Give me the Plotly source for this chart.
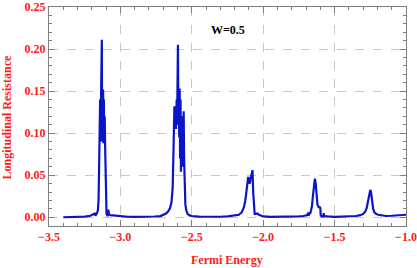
import plotly.graph_objects as go

# Fermi energy (x) and longitudinal resistance (y)
energy = [
    -3.400, -3.350, -3.300, -3.250, -3.210, -3.190, -3.180, -3.175, -3.170,
    -3.165, -3.158, -3.153, -3.149, -3.145, -3.142, -3.140, -3.137, -3.135,
    -3.133, -3.130, -3.128, -3.126, -3.124, -3.121, -3.119, -3.116, -3.113,
    -3.110, -3.107, -3.104, -3.100, -3.097, -3.094, -3.091, -3.088, -3.085,
    -3.082, -3.079, -3.070, -3.060, -3.040, -3.020, -3.000, -2.950, -2.900,
    -2.850, -2.800, -2.760, -2.720, -2.700, -2.680, -2.665, -2.652, -2.642,
    -2.634, -2.628, -2.622, -2.618, -2.614, -2.610, -2.606, -2.603, -2.600,
    -2.597, -2.594, -2.591, -2.588, -2.585, -2.582, -2.579, -2.576, -2.573,
    -2.570, -2.567, -2.563, -2.560, -2.557, -2.554, -2.550, -2.545, -2.538,
    -2.530, -2.515, -2.500, -2.450, -2.400, -2.350, -2.300, -2.250, -2.200,
    -2.170, -2.150, -2.135, -2.125, -2.115, -2.105, -2.098, -2.094, -2.088,
    -2.080, -2.075, -2.070, -2.065, -2.060, -2.050, -2.040, -2.030, -2.015,
    -2.000, -1.950, -1.900, -1.850, -1.800, -1.750, -1.720, -1.700, -1.690,
    -1.686, -1.684, -1.682, -1.680, -1.677, -1.672, -1.665, -1.658, -1.652,
    -1.645, -1.638, -1.632, -1.626, -1.620, -1.612, -1.605, -1.600, -1.597,
    -1.590, -1.585, -1.578, -1.576, -1.574, -1.565, -1.550, -1.500, -1.450,
    -1.400, -1.350, -1.320, -1.300, -1.285, -1.275, -1.265, -1.257, -1.250,
    -1.245, -1.238, -1.230, -1.222, -1.210, -1.195, -1.170, -1.140, -1.100,
    -1.060, -1.030, -1.000,
]
resistance = [
    0.0000, 0.0001, 0.0003, 0.0008, 0.0018, 0.0030, 0.0045, 0.0020, 0.0030,
    0.0045, 0.0080, 0.0200, 0.0600, 0.0950, 0.1400, 0.0900, 0.1500, 0.0920,
    0.1450, 0.2110, 0.0900, 0.1520, 0.0950, 0.1500, 0.0880, 0.1400, 0.0900,
    0.1200, 0.0850, 0.0400, 0.0080, 0.0030, 0.0070, 0.0010, 0.0040, 0.0090,
    0.0060, 0.0030, 0.0026, 0.0024, 0.0020, 0.0015, 0.0010, 0.0006, 0.0004,
    0.0004, 0.0006, 0.0009, 0.0014, 0.0025, 0.0045, 0.0070, 0.0110, 0.0180,
    0.0350, 0.0800, 0.1320, 0.1120, 0.1280, 0.1050, 0.1400, 0.1100, 0.1500,
    0.2050, 0.1200, 0.1500, 0.0950, 0.1530, 0.0700, 0.1400, 0.0540, 0.1200,
    0.0650, 0.0800, 0.0600, 0.1100, 0.1260, 0.0700, 0.0300, 0.0150, 0.0080,
    0.0040, 0.0022, 0.0015, 0.0008, 0.0005, 0.0004, 0.0006, 0.0010, 0.0020,
    0.0030, 0.0060, 0.0120, 0.0200, 0.0350, 0.0480, 0.0420, 0.0400, 0.0460,
    0.0520, 0.0560, 0.0300, 0.0080, 0.0040, 0.0040, 0.0045, 0.0030, 0.0015,
    0.0010, 0.0005, 0.0005, 0.0010, 0.0008, 0.0010, 0.0015, 0.0020, 0.0025,
    0.0050, 0.0015, 0.0060, 0.0020, 0.0050, 0.0040, 0.0080, 0.0140, 0.0250,
    0.0400, 0.0460, 0.0400, 0.0250, 0.0150, 0.0120, 0.0120, 0.0110, 0.0020,
    0.0010, 0.0015, 0.0010, 0.0050, 0.0020, 0.0015, 0.0010, 0.0005, 0.0008,
    0.0010, 0.0015, 0.0025, 0.0040, 0.0070, 0.0110, 0.0200, 0.0300, 0.0325,
    0.0300, 0.0180, 0.0100, 0.0060, 0.0040, 0.0030, 0.0020, 0.0015, 0.0018,
    0.0020, 0.0025, 0.0030,
]

x_tick_vals = [-3.5, -3.0, -2.5, -2.0, -1.5, -1.0]
x_tick_text = ["\u22123.5", "\u22123.0", "\u22122.5", "\u22122.0", "\u22121.5", "\u22121.0"]
y_tick_vals = [0.00, 0.05, 0.10, 0.15, 0.20, 0.25]
y_tick_text = ["0.00", "0.05", "0.10", "0.15", "0.20", "0.25"]

label_text = "W=0.5"
x_title = "Fermi Energy"
y_title = "Longitudinal Resistance"

SERIF = "Liberation Serif"
RED = "#ff1a1a"
FRAME = "#7f7f7f"
GRID = "#c8c8c8"

fig = go.Figure()
fig.add_trace(go.Scatter(
    x=energy, y=resistance, mode="lines",
    line=dict(color="#0a14c8", width=2.2),
    hoverinfo="skip", showlegend=False,
))

fig.add_annotation(
    x=-2.248, y=0.223, text=label_text, showarrow=False,
    font=dict(family=SERIF, size=12, color="black", weight="bold"),
)
# axis titles placed as paper annotations for exact placement
fig.add_annotation(
    xref="paper", yref="paper", x=0.498, y=-0.155, yanchor="middle",
    text=x_title, showarrow=False, borderpad=0,
    font=dict(family=SERIF, size=12, color=RED, weight="bold"),
)
fig.add_annotation(
    xref="paper", yref="paper", x=-0.117, y=0.497, xanchor="center",
    textangle=-90, text=y_title, showarrow=False,
    font=dict(family=SERIF, size=12, color=RED, weight="bold"),
)

common = dict(
    showline=True, linecolor=FRAME, linewidth=1, mirror="allticks",
    ticks="inside", ticklen=6, tickcolor=FRAME, tickwidth=1,
    showgrid=True, gridcolor=GRID, griddash="dash", gridwidth=1,
    zeroline=False, automargin=False, ticklabeloverflow="allow",
    tickfont=dict(family=SERIF, size=12, color=RED, weight="bold"),
)

fig.update_xaxes(
    range=[-3.5, -1.0], tickvals=x_tick_vals, ticktext=x_tick_text,
    minor=dict(dtick=0.1, tick0=-3.5, ticks="inside", ticklen=3,
               tickcolor=FRAME, showgrid=False),
    **common,
)
fig.update_yaxes(
    range=[-0.0104, 0.25], tickvals=y_tick_vals, ticktext=y_tick_text,
    minor=dict(dtick=0.01, tick0=0, ticks="inside", ticklen=3,
               tickcolor=FRAME, showgrid=False),
    **common,
)

fig.update_layout(
    width=417, height=268,
    margin=dict(l=49, r=11, t=7, b=42),
    plot_bgcolor="white", paper_bgcolor="white",
)

fig.write_html(
    "out.html",
    config={"displayModeBar": False},
    post_script="document.body.style.margin='0';document.body.style.overflow='hidden';",
)
